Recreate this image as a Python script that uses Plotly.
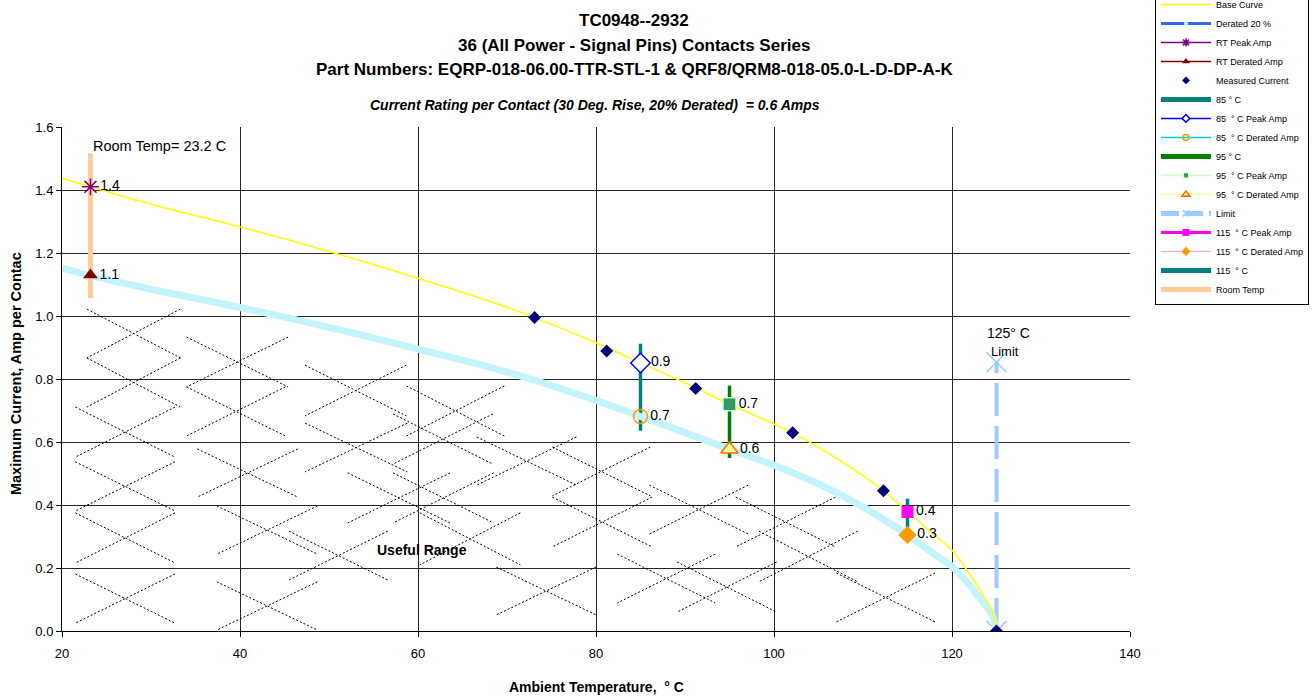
import plotly.graph_objects as go

# ---------------- data ----------------
# Base curve: maximum current per contact vs ambient temperature
base_temp = [20, 23.2, 30, 40, 50, 60, 70, 73.1, 80, 85, 90, 95, 100, 102.1, 106,
             110, 112.3, 115, 118, 120, 122, 123.5, 124.5, 125]
base_amp = [1.437, 1.410, 1.355, 1.283, 1.205, 1.120, 1.028, 0.995, 0.915, 0.851, 0.788,
            0.720, 0.657, 0.629, 0.566, 0.493, 0.445, 0.380, 0.305, 0.256, 0.180,
            0.115, 0.065, 0.0]

# Derated (20 %) curve
derated_temp = [20, 23.2, 30, 40, 50, 60, 70, 80, 85, 90, 95, 100, 105, 110, 115,
                118, 120, 122, 123.5, 124.5, 125]
derated_amp = [1.152, 1.128, 1.085, 1.027, 0.964, 0.895, 0.822, 0.732, 0.681, 0.630,
               0.577, 0.526, 0.467, 0.394, 0.305, 0.244, 0.205, 0.144, 0.092, 0.050, 0.0]

# Measured current points
meas_temp = [73.1, 81.2, 91.2, 102.1, 112.3, 125]
meas_amp = [0.995, 0.889, 0.770, 0.629, 0.445, 0.0]

# Room temperature
rt_temp = 23.2
rt_peak = 1.41
rt_derated = 1.13
rt_bar = [1.057, 1.517]

# 85 / 95 / 115 deg C
t85, t85_peak, t85_derated, t85_bar = 85, 0.851, 0.681, [0.636, 0.912]
t95, t95_peak, t95_derated, t95_bar = 95, 0.720, 0.577, [0.549, 0.779]
t115, t115_peak, t115_derated, t115_bar = 115, 0.378, 0.305, [0.328, 0.420]

# 125 deg C limit
limit_temp = 125
limit_amp = [0.0, 0.853]

x_ticks = [20, 40, 60, 80, 100, 120, 140]
y_ticks = [0.0, 0.2, 0.4, 0.6, 0.8, 1.0, 1.2, 1.4, 1.6]

# Dashed cross-hatch of the useful range: (T left, A top, T right, A bottom)
hatch_boxes = [
    (22.8, 1.022, 33.3, 0.867), (22.8, 0.867, 33.3, 0.711), (21.5, 0.711, 32.7, 0.552),
    (21.5, 0.537, 32.7, 0.381), (21.5, 0.375, 32.7, 0.216), (21.5, 0.181, 32.7, 0.025),
    (34.0, 0.933, 45.4, 0.775), (34.0, 0.775, 45.1, 0.619), (35.2, 0.578, 46.5, 0.425),
    (37.4, 0.397, 48.7, 0.244), (37.4, 0.156, 48.7, 0.003), (47.3, 0.844, 58.7, 0.683),
    (47.3, 0.660, 58.8, 0.505), (45.5, 0.317, 56.6, 0.162), (52.1, 0.502, 63.6, 0.343),
    (57.2, 0.502, 68.5, 0.343), (58.7, 0.778, 69.7, 0.619), (57.2, 0.689, 68.4, 0.530),
    (66.6, 0.616, 77.8, 0.463), (60.2, 0.375, 71.5, 0.210), (68.8, 0.203, 80.0, 0.051),
    (75.1, 0.584, 86.1, 0.429), (75.1, 0.425, 86.3, 0.267), (86.0, 0.463, 97.1, 0.308),
    (95.7, 0.425, 106.9, 0.267), (82.4, 0.244, 93.4, 0.089), (89.1, 0.219, 100.3, 0.060),
    (98.3, 0.317, 109.4, 0.156), (107.0, 0.184, 118.1, 0.029),
]

FONT = "Arial, Liberation Sans, sans-serif"
GRID = "#262626"

fig = go.Figure()

# ---------------- plotted traces ----------------
def vbar(x, ys, color, width):
    fig.add_trace(go.Scatter(x=[x, x], y=ys, mode="lines", showlegend=False,
                             line=dict(color=color, width=width), hoverinfo="skip"))

vbar(rt_temp, rt_bar, "#ffcc99", 5)
vbar(t85, t85_bar, "#008080", 3.5)
vbar(t95, t95_bar, "#008000", 3.5)
vbar(t115, t115_bar, "#008080", 3.5)

# limit line with X markers at both ends
fig.add_trace(go.Scatter(x=[limit_temp, limit_temp], y=limit_amp, mode="lines+markers",
                         showlegend=False,
                         line=dict(color="#99ccff", width=4, dash="33px,10px"),
                         marker=dict(symbol="x-thin-open", size=20, color="#99ccff",
                                     line=dict(color="#99ccff", width=1.5))))

fig.add_trace(go.Scatter(x=derated_temp, y=derated_amp, mode="lines", showlegend=False,
                         line=dict(color="#c4f4fb", width=7, shape="spline")))
fig.add_trace(go.Scatter(x=base_temp, y=base_amp, mode="lines", showlegend=False,
                         line=dict(color="#ffff00", width=1.5, shape="spline")))
fig.add_trace(go.Scatter(x=meas_temp, y=meas_amp, mode="markers", showlegend=False,
                         marker=dict(symbol="diamond", size=10, color="#000080")))

LABEL_FONT = dict(family=FONT, size=14, color="black")

def point(x, y, marker):
    fig.add_trace(go.Scatter(x=[x], y=[y], mode="markers+text", showlegend=False,
                             marker=marker, texttemplate="%{y:.1f}",
                             textposition="middle right", textfont=LABEL_FONT))

point(rt_temp, rt_peak, dict(symbol="asterisk-open", size=14, color="#800080",
                             line=dict(color="#800080", width=1.5)))
point(rt_temp, rt_derated, dict(symbol="triangle-up", size=13, color="#800000"))
point(t85, t85_peak, dict(symbol="diamond", size=15, color="white",
                          line=dict(color="#0000ff", width=1.5)))
point(t85, t85_derated, dict(symbol="circle-open", size=14, color="#ff9900",
                             line=dict(color="#ff9900", width=1.5)))
point(t95, t95_peak, dict(symbol="square", size=13, color="#339966",
                          line=dict(color="#ccffcc", width=1.5)))
point(t95, t95_derated, dict(symbol="triangle-up", size=15, color="#ffff99",
                             line=dict(color="#ff6600", width=1.5)))
point(t115, t115_peak, dict(symbol="square", size=12, color="#ff00ff"))
point(t115, t115_derated, dict(symbol="diamond", size=14, color="#ff9900"))

# ---------------- legend entries ----------------
def legend_entry(name, mode, line=None, marker=None):
    fig.add_trace(go.Scatter(x=[None], y=[None], name=name, mode=mode,
                             line=line or {}, marker=marker or {}))

legend_entry("Base Curve", "lines", line=dict(color="#ffff00", width=1.5))
legend_entry("Derated 20 %", "lines+markers", line=dict(color="#3366ff", width=3),
             marker=dict(symbol="circle", size=4, color="#ccffff"))
legend_entry("RT Peak Amp", "lines+markers", line=dict(color="#800080", width=1.5),
             marker=dict(symbol="asterisk-open", size=7, color="#800080",
                         line=dict(color="#800080", width=1.5)))
legend_entry("RT Derated Amp", "lines+markers", line=dict(color="#800000", width=1.5),
             marker=dict(symbol="triangle-up", size=7, color="#800000"))
legend_entry("Measured Current", "markers",
             marker=dict(symbol="diamond", size=6, color="#000080"))
legend_entry("85 ° C", "lines", line=dict(color="#008080", width=5))
legend_entry("85 \u00a0° C Peak Amp", "lines+markers", line=dict(color="#0000ff", width=1.5),
             marker=dict(symbol="diamond", size=6, color="white",
                         line=dict(color="#0000ff", width=1.5)))
legend_entry("85 \u00a0° C Derated Amp", "lines+markers", line=dict(color="#00ccff", width=1.5),
             marker=dict(symbol="circle-open", size=6, color="#ff9900",
                         line=dict(color="#ff9900", width=1.5)))
legend_entry("95 ° C", "lines", line=dict(color="#008000", width=5))
legend_entry("95 \u00a0° C Peak Amp", "lines+markers", line=dict(color="#ccffcc", width=1.5),
             marker=dict(symbol="square", size=5, color="#339966",
                         line=dict(color="#ccffcc", width=1)))
legend_entry("95 \u00a0° C Derated Amp", "lines+markers", line=dict(color="#ffff99", width=1.5),
             marker=dict(symbol="triangle-up", size=7, color="#ffff99",
                         line=dict(color="#ff6600", width=1.5)))
legend_entry("Limit", "lines+markers", line=dict(color="#99ccff", width=5, dash="18px,6px"),
             marker=dict(symbol="x-thin-open", size=6, color="#99ccff",
                         line=dict(color="#99ccff", width=1.5)))
legend_entry("115 \u00a0° C Peak Amp", "lines+markers", line=dict(color="#ff00ff", width=3),
             marker=dict(symbol="square", size=7, color="#ff00ff"))
legend_entry("115 \u00a0° C Derated Amp", "lines+markers", line=dict(color="#ff99cc", width=1),
             marker=dict(symbol="diamond", size=7, color="#ff9900"))
legend_entry("115 \u00a0° C", "lines", line=dict(color="#008080", width=5))
legend_entry("Room Temp", "lines", line=dict(color="#ffcc99", width=5))

# ---------------- hatch ----------------
shapes = [
    # no grid line along the top edge of the plot area
    dict(type="line", xref="paper", yref="y", x0=0.001, x1=1, y0=y_ticks[-1], y1=y_ticks[-1],
         layer="between", line=dict(color="white", width=2)),
]
for x0, y0, x1, y1 in hatch_boxes:
    for xa, ya, xb, yb in ((x0, y0, x1, y1), (x1, y0, x0, y1)):
        shapes.append(dict(type="line", xref="x", yref="y", x0=xa, y0=ya, x1=xb, y1=yb,
                           layer="between", line=dict(color="black", width=1, dash="2px,2px")))

# ---------------- text ----------------
def ann(text, x, y, size, xref="paper", yref="paper", xanchor="center", angle=0, **kw):
    return dict(text=text, x=x, y=y, xref=xref, yref=yref, xanchor=xanchor,
                yanchor="middle", showarrow=False, textangle=angle,
                font=dict(family=FONT, size=size, color="black"), **kw)

annotations = [
    ann("<b>TC0948--2932</b>", 0.536, 1.212, 17),
    ann("<b>36 (All Power - Signal Pins) Contacts Series</b>", 0.536, 1.162, 17),
    ann("<b>Part Numbers: EQRP-018-06.00-TTR-STL-1 &amp; QRF8/QRM8-018-05.0-L-D-DP-A-K</b>",
        0.536, 1.114, 17),
    ann("<b><i>Current Rating per Contact (30 Deg. Rise, 20% Derated)  = 0.6 Amps</i></b>",
        0.4995, 1.044, 14),
    ann("<b>Ambient Temperature,  ° C</b>", 0.5, -0.111, 14),
    ann("<b>Maximum Current, Amp per Contac</b>", -0.043, 0.51, 14.5, angle=-90),
    ann(f"Room Temp= {rt_temp} C", rt_temp + 0.1, 1.54, 14.5, xref="x", yref="y",
        xanchor="left"),
    ann(f"{limit_temp}° C", limit_temp + 1.4, 0.946, 14, xref="x", yref="y"),
    ann("Limit", limit_temp + 0.9, 0.888, 13, xref="x", yref="y"),
    ann("<b>Useful Range</b>", 60.4, 0.257, 14, xref="x", yref="y"),
]

axis_common = dict(showline=True, linecolor="black", linewidth=1, ticks="outside",
                   ticklen=5, tickcolor="black", zeroline=False, showgrid=True,
                   gridcolor=GRID, gridwidth=1,
                   tickfont=dict(family=FONT, size=13, color="black"))

fig.update_layout(
    width=1312, height=698,
    margin=dict(l=62, r=182, t=127, b=67, autoexpand=False),
    paper_bgcolor="white", plot_bgcolor="white",
    font=dict(family=FONT, color="black"),
    xaxis=dict(range=[20, 140], tickvals=x_ticks, ticklabelstandoff=5, **axis_common),
    yaxis=dict(range=[0, 1.6], tickvals=y_ticks, tickformat=".1f", **axis_common),
    shapes=shapes,
    annotations=annotations,
    showlegend=True,
    legend=dict(x=1.0234, y=1.274, xanchor="left", yanchor="top", xref="paper", yref="paper",
                bgcolor="white", bordercolor="black", borderwidth=1,
                font=dict(family=FONT, size=9, color="black"),
                itemwidth=50, tracegroupgap=0),
)

fig.write_html("out.html")
